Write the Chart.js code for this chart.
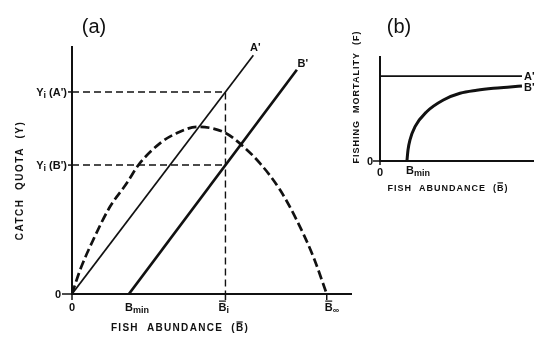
<!DOCTYPE html>
<html>
<head>
<meta charset="utf-8">
<script src="https://cdn.jsdelivr.net/npm/chart.js@4"></script>
<style>
  body { margin: 0; background: #fff; }
  #wrap { position: relative; width: 550px; height: 342px; background: #fff; }
  #chartA { position: absolute; left: 0; top: 0; }
  #chartB { position: absolute; left: 340px; top: 0; }
</style>
</head>
<body>
<div id="wrap">
  <canvas id="chartA" width="360" height="342"></canvas>
  <canvas id="chartB" width="210" height="200"></canvas>
</div>
<script>
// panel (a) - yield curve vs. catch quota lines (arbitrary units)
const yieldX = [0, 2.9, 7.6, 13.6, 19.6, 23.8, 31.5, 37.5, 45, 54.8, 60.8, 67.4, 74.6, 80.5, 86.5, 91.3];
const yieldY = [0, 9.7, 21.9, 35.3, 44.8, 52.2, 61.0, 65.1, 67.7, 65.3, 60.3, 52.9, 42.1, 30.0, 15.1, 0];
const quotaAX = [0, 65];
const quotaAY = [0, 96.7];
const quotaBX = [20.4, 80.6];
const quotaBY = [0, 90.8];
const bMin = 20.4;
const bI = 55;
const bInf = 91.3;
const yiA = 81.8;
const yiB = 52.2;

// panel (b) - fishing mortality vs. abundance
const mortAX = [0, 92.8];
const mortAY = [81.7, 81.7];
const mortBX = [17.6, 18.3, 19.6, 22.9, 30.5, 41.4, 52.3, 63.2, 74.1, 85, 92.8];
const mortBY = [0, 10.6, 20.2, 33, 47.4, 58.7, 65.1, 68, 69.9, 71.2, 72.2];
const bMinB = 17.6;

const INK = "#111111";
const FONT = '"Liberation Sans", Arial, sans-serif';

const pts = (xs, ys) => xs.map((x, i) => ({ x, y: ys[i] }));

// draws text made of pieces, some of them subscript or with an overbar
function drawRich(ctx, pieces, x, y, align, size, spacing, weight) {
  ctx.save();
  ctx.fillStyle = INK;
  ctx.strokeStyle = INK;
  ctx.textBaseline = "alphabetic";
  ctx.textAlign = "left";
  ctx.letterSpacing = (spacing || 0) + "px";
  const w = weight || "bold";
  const fontFor = (p) => w + " " + (p.sub ? Math.round(size * 0.8) : size) + "px " + FONT;
  const widths = pieces.map((p) => {
    ctx.font = fontFor(p);
    return ctx.measureText(p.text).width;
  });
  const total = widths.reduce((a, b) => a + b, 0);
  let cx = x;
  if (align === "right") cx = x - total;
  else if (align === "center") cx = x - total / 2;
  else if (align === "first") cx = x - widths[0] / 2;
  pieces.forEach((p, i) => {
    ctx.font = fontFor(p);
    const dy = p.sub ? size * 0.22 : 0;
    ctx.fillText(p.text, cx, y + dy);
    if (p.bar) {
      ctx.lineWidth = 1.2;
      ctx.beginPath();
      ctx.moveTo(cx + 0.5, y - size * 0.9);
      ctx.lineTo(cx + widths[i] - (spacing || 0) - 0.5, y - size * 0.9);
      ctx.stroke();
    }
    cx += widths[i];
  });
  ctx.restore();
}

function tick(ctx, x1, y1, x2, y2) {
  ctx.save();
  ctx.strokeStyle = INK;
  ctx.lineWidth = 1.5;
  ctx.beginPath();
  ctx.moveTo(x1, y1);
  ctx.lineTo(x2, y2);
  ctx.stroke();
  ctx.restore();
}

function axisOpts(pad) {
  const scale = {
    type: "linear",
    min: 0,
    max: 100,
    grid: { display: false, drawTicks: false },
    ticks: { display: false },
    border: { color: INK, width: 2 },
  };
  return {
    responsive: false,
    animation: false,
    layout: { padding: pad },
    scales: { x: { ...scale }, y: { ...scale } },
    plugins: { legend: { display: false }, tooltip: { enabled: false } },
  };
}

const labelsA = {
  id: "labelsA",
  afterDraw(chart) {
    const { ctx, chartArea: a } = chart;
    const xs = chart.scales.x;
    const ys = chart.scales.y;
    const x0 = xs.getPixelForValue(0);
    const y0 = ys.getPixelForValue(0);

    // small tick marks
    tick(ctx, x0 - 10, y0, x0, y0);
    tick(ctx, x0, y0, x0, y0 + 6);
    tick(ctx, xs.getPixelForValue(bI), y0, xs.getPixelForValue(bI), y0 + 6);
    tick(ctx, xs.getPixelForValue(bInf), y0, xs.getPixelForValue(bInf), y0 + 6);
    tick(ctx, x0 - 4, ys.getPixelForValue(yiA), x0, ys.getPixelForValue(yiA));
    tick(ctx, x0 - 4, ys.getPixelForValue(yiB), x0, ys.getPixelForValue(yiB));

    // y tick labels
    drawRich(ctx, [{ text: "0" }], x0 - 11, y0 + 4, "right", 11);
    drawRich(ctx, [{ text: "Y" }, { text: "i", sub: true }, { text: " (A')" }], x0 - 5, ys.getPixelForValue(yiA) + 4, "right", 11);
    drawRich(ctx, [{ text: "Y" }, { text: "i", sub: true }, { text: " (B')" }], x0 - 5, ys.getPixelForValue(yiB) + 4, "right", 11);

    // x tick labels
    const ty = y0 + 17;
    drawRich(ctx, [{ text: "0" }], x0, ty, "first", 11);
    drawRich(ctx, [{ text: "B" }, { text: "min", sub: true }], xs.getPixelForValue(bMin), ty, "first", 11);
    drawRich(ctx, [{ text: "B", bar: true }, { text: "i", sub: true }], xs.getPixelForValue(bI) - 3, ty, "first", 11);
    drawRich(ctx, [{ text: "B", bar: true }, { text: "\u221e", sub: true }], xs.getPixelForValue(bInf) + 2, ty, "first", 11);

    // line end labels
    drawRich(ctx, [{ text: "A'" }], xs.getPixelForValue(quotaAX[1]) + 2, ys.getPixelForValue(quotaAY[1]) - 4, "center", 11);
    drawRich(ctx, [{ text: "B'" }], xs.getPixelForValue(quotaBX[1]) + 6, ys.getPixelForValue(quotaBY[1]) - 3, "center", 11);

    // axis titles
    drawRich(ctx, [{ text: "FISH  ABUNDANCE  (" }, { text: "B", bar: true }, { text: ")" }], a.left + 108, a.bottom + 37, "center", 10, 1.3);
    ctx.save();
    ctx.translate(a.left - 49, (a.top + a.bottom) / 2 + 10);
    ctx.rotate(-Math.PI / 2);
    drawRich(ctx, [{ text: "CATCH  QUOTA  (Y)" }], 0, 0, "center", 10, 1.5);
    ctx.restore();

    // panel letter
    drawRich(ctx, [{ text: "(a)" }], a.left + 22, a.top - 14, "center", 20, 0, "normal");
  },
};

const labelsB = {
  id: "labelsB",
  afterDraw(chart) {
    const { ctx, chartArea: a } = chart;
    const xs = chart.scales.x;
    const ys = chart.scales.y;
    const x0 = xs.getPixelForValue(0);
    const y0 = ys.getPixelForValue(0);

    tick(ctx, x0 - 7, y0, x0, y0);
    tick(ctx, x0, y0, x0, y0 + 4);

    drawRich(ctx, [{ text: "0" }], x0 - 7, y0 + 4, "right", 11);
    drawRich(ctx, [{ text: "0" }], x0, y0 + 15, "first", 11);
    drawRich(ctx, [{ text: "B" }, { text: "min", sub: true }], xs.getPixelForValue(bMinB) + 3, y0 + 13, "first", 11);

    drawRich(ctx, [{ text: "A'" }], xs.getPixelForValue(mortAX[1]) + 2, ys.getPixelForValue(mortAY[1]) + 4, "left", 11);
    drawRich(ctx, [{ text: "B'" }], xs.getPixelForValue(mortBX[mortBX.length - 1]) + 2, ys.getPixelForValue(mortBY[mortBY.length - 1]) + 5, "left", 11);

    drawRich(ctx, [{ text: "FISH  ABUNDANCE  (" }, { text: "B", bar: true }, { text: ")" }], a.left + 68, a.bottom + 30, "center", 9, 1.0);
    ctx.save();
    ctx.translate(a.left - 21, a.top + 40);
    ctx.rotate(-Math.PI / 2);
    drawRich(ctx, [{ text: "FISHING  MORTALITY  (F)" }], 0, 0, "center", 9, 1.0);
    ctx.restore();

    drawRich(ctx, [{ text: "(b)" }], a.left + 19, a.top - 24, "center", 20, 0, "normal");
  },
};

new Chart(document.getElementById("chartA"), {
  type: "scatter",
  data: {
    datasets: [
      {
        data: [{ x: 0, y: yiA }, { x: bI, y: yiA }, { x: bI, y: 0 }],
        showLine: true, borderColor: INK, borderWidth: 1.4, borderDash: [7, 4], pointRadius: 0,
      },
      {
        data: [{ x: 0, y: yiB }, { x: bI, y: yiB }],
        showLine: true, borderColor: INK, borderWidth: 1.4, borderDash: [7, 4], pointRadius: 0,
      },
      {
        data: pts(yieldX, yieldY),
        showLine: true, borderColor: INK, borderWidth: 2.7, borderDash: [9, 4],
        cubicInterpolationMode: "monotone", pointRadius: 0,
      },
      {
        data: pts(quotaAX, quotaAY),
        showLine: true, borderColor: INK, borderWidth: 1.7, pointRadius: 0,
      },
      {
        data: pts(quotaBX, quotaBY),
        showLine: true, borderColor: INK, borderWidth: 2.7, pointRadius: 0,
      },
    ],
  },
  options: axisOpts({ left: 72, right: 9, top: 47, bottom: 48 }),
  plugins: [labelsA],
});

new Chart(document.getElementById("chartB"), {
  type: "scatter",
  data: {
    datasets: [
      {
        data: pts(mortAX, mortAY),
        showLine: true, borderColor: INK, borderWidth: 1.7, pointRadius: 0,
      },
      {
        data: pts(mortBX, mortBY),
        showLine: true, borderColor: INK, borderWidth: 3, cubicInterpolationMode: "monotone", pointRadius: 0,
      },
    ],
  },
  options: axisOpts({ left: 40, right: 17, top: 57, bottom: 39 }),
  plugins: [labelsB],
});
</script>
</body>
</html>
